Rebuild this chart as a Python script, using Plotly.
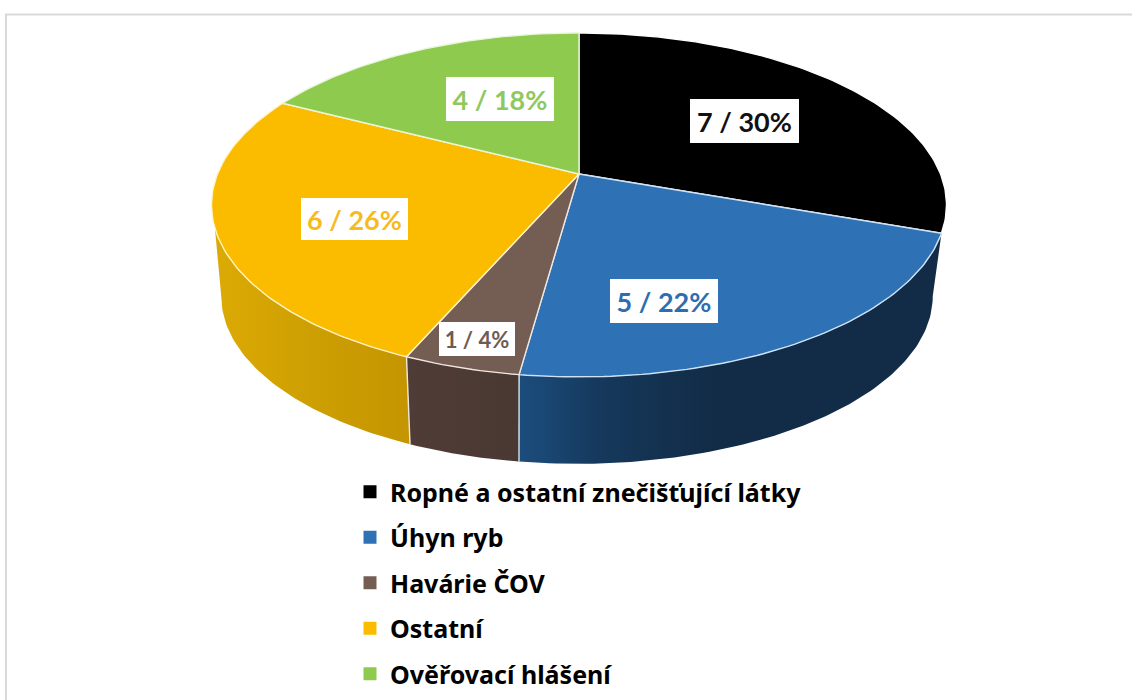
import math
import plotly.graph_objects as go

categories = ["Ropné a ostatní znečišťující látky", "Úhyn ryb", "Havárie ČOV", "Ostatní", "Ověřovací hlášení"]
counts = [7, 5, 1, 6, 4]
percent_labels = ["7 / 30%", "5 / 22%", "1 / 4%", "6 / 26%", "4 / 18%"]
top_colors = ["#000000", "#2e72b5", "#745e54", "#fbbc00", "#8dca4d"]
label_colors = ["#111111", "#2e6db0", "#6f5b52", "#f6bb1c", "#90c860"]
edge_colors = ["#ffffff", "#cfe3f5", "#f0e8e0", "#fff4c8", "#e8f5d8"]
wall_scales = {
    1: [[0, "#1c4d7d"], [0.2, "#15385b"], [0.45, "#122c47"], [1, "#122c47"]],
    2: [[0, "#4f3c36"], [1, "#4a3833"]],
    3: [[0, "#dcaa04"], [0.45, "#cfa002"], [1, "#c49500"]],
}
label_boxes = [(690, 799, 99, 143), (610, 718, 279, 323), (439, 515, 322, 356), (301, 408, 198, 240), (446, 554, 77, 121)]

CX, CY, AX, AY, K = 579.0, 174.0, 361.5, 166.4, 0.18
BOT_DX, BOT_DY, BOT_SX, BOT_SY = -2.0, 92.0, 0.968, 0.975
RIGHT_TANGENT, LEFT_TOP, LEFT_TANGENT = 100.4, 252.0, 259.6


def rim(deg, bottom=False):
    a = math.radians(deg)
    u, v = math.sin(a), math.cos(a)
    d = 1 + K * v
    dx, dy = AX * u / d, -AY * v / d
    if bottom:
        return CX + BOT_DX + dx * BOT_SX, CY + BOT_DY + dy * BOT_SY
    return CX + dx, CY + dy


def arc(a0, a1, bottom=False, step=1.0):
    n = max(2, int(abs(a1 - a0) / step) + 1)
    return [rim(a0 + (a1 - a0) * i / (n - 1), bottom) for i in range(n)]


total = sum(counts)
edges = [0.0]
for c in counts:
    edges.append(edges[-1] + 360.0 * c / total)

fig = go.Figure()


def poly(pts, fill, line_color, width, gradient=None):
    xs = [p[0] for p in pts] + [pts[0][0]]
    ys = [p[1] for p in pts] + [pts[0][1]]
    kw = dict(fillgradient=dict(type="horizontal", colorscale=gradient)) if gradient else dict(fillcolor=fill)
    fig.add_trace(go.Scatter(x=xs, y=ys, mode="lines", fill="toself",
                             line=dict(color=line_color, width=width), showlegend=False, hoverinfo="skip", **kw))


# walls of the front slices, shaded left to right
walls = {1: (edges[1], edges[2], RIGHT_TANGENT, edges[2]),
         2: (edges[2], edges[3], edges[2], edges[3]),
         3: (edges[3], LEFT_TOP, edges[3], LEFT_TANGENT)}
for i, (t0, t1, b0, b1) in walls.items():
    poly(arc(t0, t1) + arc(b1, b0, True), None, "rgba(0,0,0,0)", 0, gradient=wall_scales[i])

# seams between the walls
for deg, col in ((edges[2], "#d5e4f2"), (edges[3], "#f0e8e0")):
    a, b = rim(deg), rim(deg, True)
    fig.add_trace(go.Scatter(x=[a[0], b[0]], y=[a[1], b[1]], mode="lines",
                             line=dict(color=col, width=1.4), showlegend=False, hoverinfo="skip"))

# top faces
for i in range(len(counts)):
    poly([(CX, CY)] + arc(edges[i], edges[i + 1]), top_colors[i], edge_colors[i], 1.4)

# legend entries
for i, name in enumerate(categories):
    fig.add_trace(go.Scatter(x=[None], y=[None], mode="markers", name=name, legendgroup=name,
                             marker=dict(symbol="square", size=13, color=top_colors[i]),
                             hoverinfo="skip"))

for i, txt in enumerate(percent_labels):
    x0, x1, y0, y1 = label_boxes[i]
    fig.add_annotation(x=(x0 + x1) / 2, y=(y0 + y1) / 2, text="<b>%s</b>" % txt, showarrow=False,
                       xref="x", yref="y", width=x1 - x0, height=y1 - y0, align="center", valign="middle",
                       bgcolor="#ffffff", borderpad=0, borderwidth=0,
                       font=dict(family="Lato", size=22 if i == 2 else 27, color=label_colors[i]))

frame = "#d9d9d9"
fig.add_shape(type="line", xref="x", yref="y", x0=6, x1=6, y0=14, y1=700, line=dict(color=frame, width=2))
fig.add_shape(type="line", xref="x", yref="y", x0=5, x1=1132, y0=14.5, y1=14.5, line=dict(color=frame, width=2))

fig.update_layout(
    width=1132, height=700, margin=dict(l=0, r=0, t=0, b=0),
    paper_bgcolor="#ffffff", plot_bgcolor="#ffffff",
    xaxis=dict(range=[0, 1132], visible=False, fixedrange=True),
    yaxis=dict(range=[700, 0], visible=False, fixedrange=True),
    showlegend=True,
    legend=dict(x=350 / 1132, y=1 - 469 / 700, xanchor="left", yanchor="top",
                font=dict(family="Noto Sans", size=25, color="#000000", weight="bold"),
                tracegroupgap=10, bgcolor="rgba(0,0,0,0)", itemclick=False, itemdoubleclick=False),
)

fig.write_html("out.html", config={"displayModeBar": False},
               post_script="document.body.style.margin='0';document.documentElement.style.overflow='hidden';")
